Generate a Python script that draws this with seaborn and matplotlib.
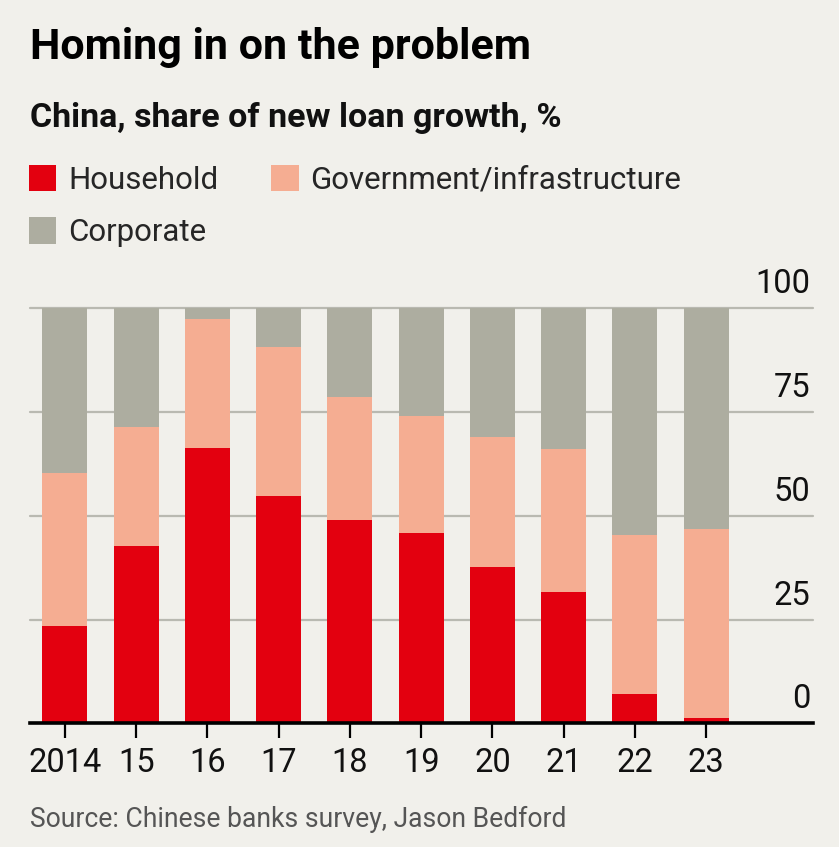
import matplotlib
matplotlib.use("Agg")
import matplotlib.pyplot as plt
import matplotlib.transforms as mtransforms
import seaborn as sns
import pandas as pd

# data, shares of new loan growth (%)
years = ["2014", "15", "16", "17", "18", "19", "20", "21", "22", "23"]
household = [23.5, 42.8, 66.4, 54.8, 48.9, 45.8, 37.7, 31.6, 7.1, 1.2]
government = [36.9, 28.6, 31.0, 35.8, 29.8, 28.3, 31.2, 34.5, 38.3, 45.7]
corporate = [39.6, 28.6, 2.6, 9.4, 21.3, 25.9, 31.1, 33.9, 54.6, 53.1]

RED = "#e3000f"
SALMON = "#f5ad92"
GREY = "#adada0"
BG = "#f1f0eb"
FONT = ["Roboto", "DejaVu Sans"]

df = pd.DataFrame({"year": years, "household": household,
                   "government": government, "corporate": corporate})
df["hh_gov"] = df["household"] + df["government"]
df["total"] = df["hh_gov"] + df["corporate"]

sns.set_theme(style="white")
plt.rcParams["font.family"] = FONT

fig = plt.figure(figsize=(8.39, 8.47), dpi=100, facecolor=BG)
ax = fig.add_axes([30 / 839, 1 - 723.3 / 847, (813 - 30) / 839, (723.3 - 308.3) / 847])
ax.set_facecolor(BG)

# gridlines behind bars
for v in [25, 50, 75, 100]:
    ax.axhline(v, color="#b9b9b1", lw=1.6, zorder=0, clip_on=False)

bar_kw = dict(width=0.63, saturation=1, linewidth=0, edgecolor="none", ax=ax)
sns.barplot(data=df, x="year", y="total", color=GREY, label="Corporate", zorder=2, **bar_kw)
sns.barplot(data=df, x="year", y="hh_gov", color=SALMON,
            label="Government/infrastructure", zorder=3, **bar_kw)
sns.barplot(data=df, x="year", y="household", color=RED, label="Household", zorder=4, **bar_kw)

ax.set_ylim(0, 100)
ax.set_xlim(-0.49, 10.5)
ax.set_xlabel("")
ax.set_ylabel("")
ax.set_yticks([])
for s in ["top", "right", "left"]:
    ax.spines[s].set_visible(False)
ax.spines["bottom"].set_linewidth(2.6)
ax.spines["bottom"].set_color("black")
ax.spines["bottom"].set_zorder(6)
ax.tick_params(axis="x", bottom=True, length=11, width=1.6, color="black",
               labelsize=23.5, pad=6, labelcolor="#111111")

# y labels sitting above gridlines at the right end
off = mtransforms.offset_copy(ax.get_yaxis_transform(), fig=fig, x=-3, y=8, units="dots")
for v in [0, 25, 50, 75, 100]:
    ax.text(1.0, v, str(v), transform=off, ha="right", va="bottom",
            fontsize=23.5, color="#111111")

handles, labels = ax.get_legend_handles_labels()
order = [labels.index(n) for n in ["Household", "Corporate", "Government/infrastructure"]]
ax.legend([handles[i] for i in order], [labels[i] for i in order],
          ncol=2, frameon=False, fontsize=22.5, loc="upper left",
          bbox_to_anchor=(29 / 839, 1 - 165 / 847), bbox_transform=fig.transFigure,
          borderpad=0, borderaxespad=0, handlelength=0.87, handleheight=0.92,
          handletextpad=0.38, columnspacing=1.7, labelspacing=0.72)

fig.text(30 / 839, 1 - 48 / 847, "Homing in on the problem", fontsize=31,
         fontweight="bold", va="center", ha="left", color="black")
fig.text(30 / 839, 1 - 118 / 847, "China, share of new loan growth, %", fontsize=24.5,
         fontweight="bold", va="center", ha="left", color="#111111")
fig.text(30 / 839, 1 - 819 / 847, "Source: Chinese banks survey, Jason Bedford",
         fontsize=19.1, va="center", ha="left", color="#555555")

fig.savefig("out.png", dpi=100, facecolor=BG)
